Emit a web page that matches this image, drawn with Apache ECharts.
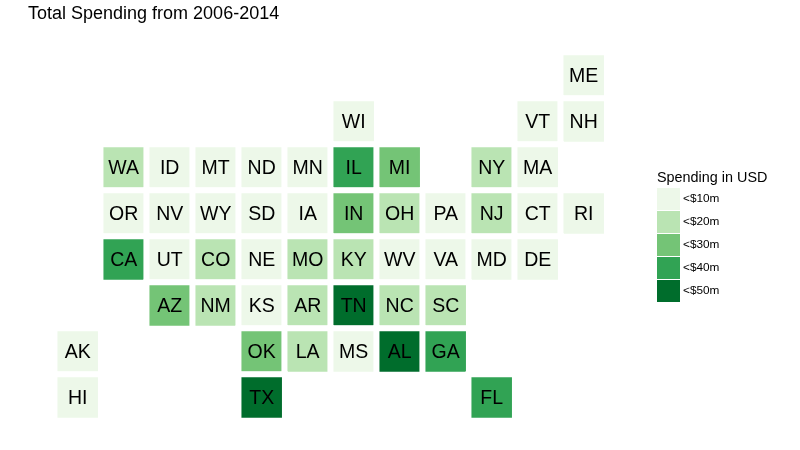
<!DOCTYPE html>
<html><head><meta charset="utf-8">
<style>html,body{margin:0;padding:0;background:#fff}#c{width:800px;height:450px}</style>
<script src="https://cdn.jsdelivr.net/npm/echarts@6/dist/echarts.min.js"></script>
</head><body><div id="c"></div>
<script>
const columns = ['0','1','2','3','4','5','6','7','8','9','10','11'];
const rows = ['0','1','2','3','4','5','6','7'];
const states = ['ME','WI','VT','NH','WA','ID','MT','ND','MN','IL','MI','NY','MA','OR','NV','WY','SD','IA','IN','OH','PA','NJ','CT','RI','CA','UT','CO','NE','MO','KY','WV','VA','MD','DE','AZ','NM','KS','AR','TN','NC','SC','AK','OK','LA','MS','AL','GA','HI','TX','FL'];
const stateCol = [11,6,10,11,1,2,3,4,5,6,7,9,10,1,2,3,4,5,6,7,8,9,10,11,1,2,3,4,5,6,7,8,9,10,2,3,4,5,6,7,8,0,4,5,6,7,8,0,4,9];
const stateRow = [0,1,1,1,2,2,2,2,2,2,2,2,2,3,3,3,3,3,3,3,3,3,3,3,4,4,4,4,4,4,4,4,4,4,5,5,5,5,5,5,5,6,6,6,6,6,6,7,7,7];
const spending = [5,5,5,5,15,5,5,5,5,35,25,15,5,5,5,5,5,5,25,15,5,15,5,5,35,5,15,5,15,15,5,5,5,5,25,15,5,15,45,15,15,5,25,15,5,45,35,5,45,35];
const bucketLabels = ['<$10m','<$20m','<$30m','<$40m','<$50m'];
const bucketColors = ['#EDF8E9','#BAE4B3','#74C476','#31A354','#006D2C'];
const font = '"Liberation Sans", Arial, sans-serif';

const chart = echarts.init(document.getElementById('c'), null, {renderer:'canvas'});
chart.setOption({
  animation:false,
  backgroundColor:'#fff',
  title:[
    {text:'Total Spending from 2006-2014',left:28,top:5,padding:0,textStyle:{fontFamily:font,fontSize:18,fontWeight:'normal',color:'#000'}},
    {text:'Spending in USD',left:657,top:171,padding:0,textStyle:{fontFamily:font,fontSize:14.4,fontWeight:'normal',color:'#000'}}
  ],
  grid:{left:54.7,top:52.5,width:552,height:368},
  xAxis:{type:'category',data:columns,show:false},
  yAxis:{type:'category',data:rows,inverse:true,show:false},
  visualMap:{
    type:'piecewise',dimension:2,seriesIndex:0,left:657,top:188,orient:'vertical',inverse:true,align:'left',
    itemWidth:23,itemHeight:22,itemGap:1,itemSymbol:'rect',padding:0,textGap:3,selectedMode:false,
    textStyle:{fontFamily:font,fontSize:11.8,color:'#000'},
    pieces:bucketLabels.map((l,i)=>({min:i*10,max:(i+1)*10,label:l,color:bucketColors[i]}))
  },
  series:[{
    type:'heatmap',
    data:states.map((s,i)=>({name:s,value:[stateCol[i],stateRow[i],spending[i]]})),
    itemStyle:{borderColor:'#fff',borderWidth:6},
    label:{show:true,formatter:p=>p.name,fontFamily:font,fontSize:19.5,color:'#000',offset:[0,1.5]},
    emphasis:{disabled:true}
  }]
});
</script></body></html>
